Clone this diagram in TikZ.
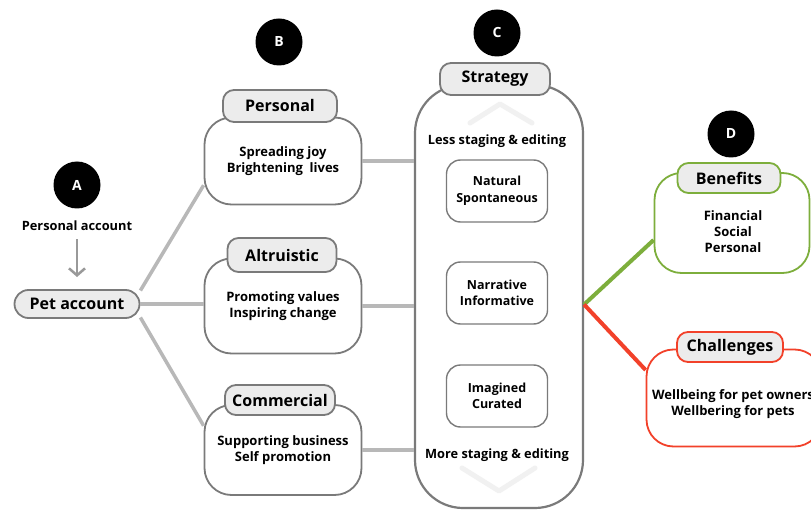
\documentclass[tikz,border=0pt]{standalone}
\usepackage{fontspec}
\setmainfont{Open Sans}
\usetikzlibrary{arrows.meta,calc}
\definecolor{conngray}{HTML}{B8B8B8}
\definecolor{edgegray}{HTML}{7A7A7A}
\definecolor{tabfill}{HTML}{ECECEC}
\definecolor{okgreen}{HTML}{7DAE3C}
\definecolor{alertred}{HTML}{F2412A}
\definecolor{fadegray}{HTML}{F1F1F1}
\tikzset{
  x=1pt, y=-1pt,
  badge/.style={circle, fill=black, minimum size=47pt, inner sep=0pt,
    text=white, font=\fontsize{14}{14}\selectfont\bfseries},
  tabbox/.style={draw=edgegray, line width=1.8pt, fill=tabfill, rounded corners=11pt,
    inner sep=0pt, font=\fontsize{16}{16}\selectfont\bfseries},
  bodybox/.style={draw=edgegray, line width=1.8pt, fill=white, rounded corners=27pt,
    inner sep=0pt, align=center, font=\fontsize{13}{16}\selectfont\bfseries},
  innerbox/.style={draw=edgegray, line width=1.4pt, fill=white, rounded corners=14pt,
    minimum width=101pt, minimum height=62pt, inner sep=0pt, align=center,
    font=\fontsize{12.5}{16.5}\selectfont\bfseries},
  plain/.style={inner sep=0pt, font=\fontsize{12.8}{14}\selectfont\bfseries},
  conn/.style={draw=conngray, line width=3.5pt},
}
\begin{document}
\begin{tikzpicture}
\useasboundingbox[fill=white] (0,0) rectangle (811,513);

% column A
\node[badge] (ba) at (77,185) {A};
\node[plain] (pacc) at (77,226) {Personal account};
\node[tabbox, minimum width=125pt, minimum height=28pt, rounded corners=14pt] (pet) at (77,304) {Pet account};
\coordinate (arrtop) at (77,239);
\coordinate (arrbot) at (77,277);
\draw[draw=gray!80, line width=2.5pt, -{Straight Barb[length=7pt,width=16pt]}] (arrtop) -- (arrbot);

% column B : account types
\node[badge] (bb) at (279,42) {B};
\node[bodybox, minimum width=157pt, minimum height=87pt] (persbox) at (283,161) {Spreading joy\\Brightening\ \ lives};
\node[bodybox, minimum width=157pt, minimum height=95pt] (altbox) at (283,306) {Promoting values\\Inspiring change};
\node[bodybox, minimum width=157pt, minimum height=90pt] (combox) at (283,450) {Supporting business\\Self promotion};

% column C : strategy container
\node[badge] (bc) at (497,33) {C};
\node[draw=edgegray, line width=2.2pt, rounded corners=48pt, fill=white,
      minimum width=168pt, minimum height=423pt, inner sep=0pt] (strat) at (499,296.5) {};
\draw[fadegray, line width=5pt, line cap=round, line join=round]
  (470,123) -- (500,104) -- (532,123);
\draw[fadegray, line width=5pt, line cap=round, line join=round]
  (462,468) -- (499,491) -- (535,468);
\node[plain] (less) at (497,141) {Less staging \& editing};
\node[innerbox] (nat) at (497,191) {Natural\\Spontaneous};
\node[innerbox] (nar) at (497,293) {Narrative\\Informative};
\node[innerbox] (ima) at (497,396) {Imagined\\Curated};
\node[plain] (more) at (497,455) {More staging \& editing};

% connectors from the pet account to the three types
\draw[conn] (pet.12) -- (persbox.197);
\draw[conn] (pet.east) -- (pet.east -| altbox.west);
\draw[conn] (pet.-12) -- (combox.163);

% connectors from the types into the strategy
\draw[conn] (persbox.east) -- (persbox.east -| strat.west);
\draw[conn] (altbox.east) -- (altbox.east -| strat.west);
\draw[conn] (combox.east) -- (combox.east -| strat.west);

% column D : outcomes
\node[badge] (bd) at (731,134) {D};
\node[bodybox, draw=okgreen, minimum width=155pt, minimum height=100pt] (benebox) at (732,223) {};
\node[plain, align=center, font=\fontsize{13}{16}\selectfont\bfseries] (benetext) at (733,232)
  {Financial\\Social\\Personal};
\node[bodybox, draw=alertred, minimum width=175pt, minimum height=97pt] (chalbox) at (734,398) {};
\node[plain, align=center, font=\fontsize{13}{16}\selectfont\bfseries] (chaltext) at (733,404)
  {Wellbeing for pet owners\\Wellbering for pets};

\coordinate (fork) at ($(strat.east)+(0,8)$);
\draw[draw=okgreen, line width=4pt] (fork) -- ($(benebox.west)+(0,17)$);
\draw[draw=alertred, line width=4pt] (fork) -- ($(chalbox.west)+(0,-28)$);

% tabs sit on top of their boxes
\node[tabbox, minimum width=114pt, minimum height=32pt] (perstab) at (280,106) {Personal};
\node[tabbox, minimum width=109pt, minimum height=34pt] (alttab) at (282,255) {Altruistic};
\node[tabbox, minimum width=110pt, minimum height=30pt] (comtab) at (280,400) {Commercial};
\node[tabbox, minimum width=110pt, minimum height=32pt] (strattab) at (495,79) {Strategy};
\node[tabbox, draw=okgreen, minimum width=103pt, minimum height=30pt] (benetab) at (729,178) {Benefits};
\node[tabbox, draw=alertred, minimum width=106pt, minimum height=30pt] (chaltab) at (730,347) {Challenges};
\end{tikzpicture}
\end{document}
